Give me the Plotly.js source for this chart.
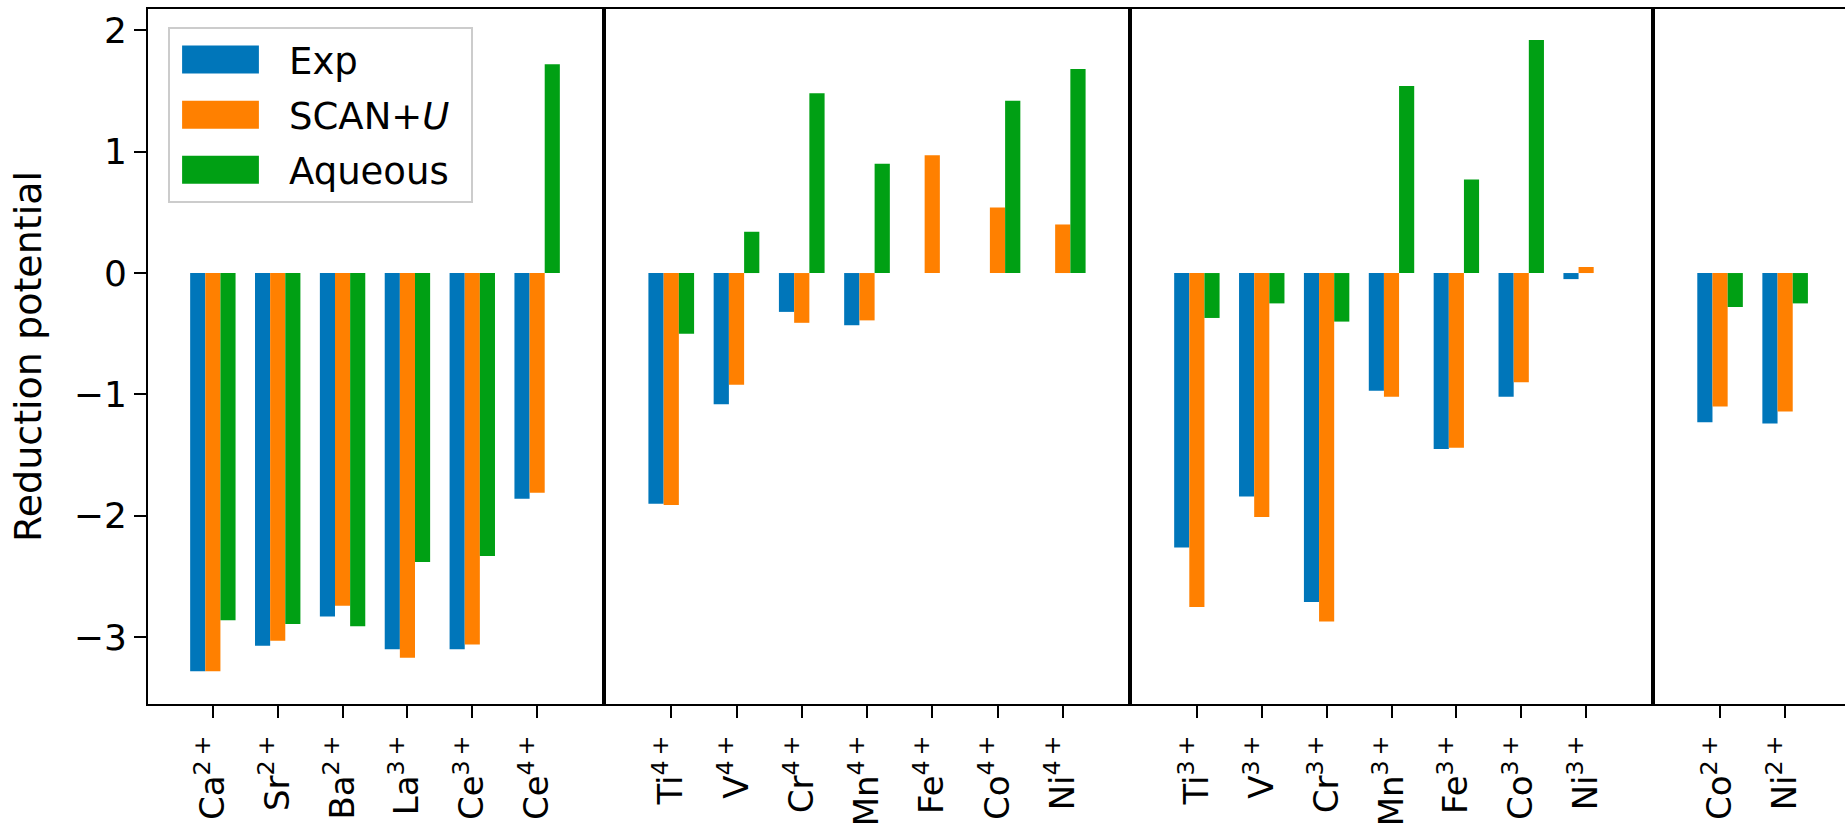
<!DOCTYPE html>
<html><head><meta charset="utf-8">
<script src="https://cdn.plot.ly/plotly-3.0.1.min.js"></script>
<style>html,body{margin:0;padding:0;background:#fff;}</style>
</head><body><div id="chart" style="width:1845px;height:825px;"></div>
<script>
// ---- data ----
const seriesNames = ['Exp', 'SCAN+<i>U</i>', 'Aqueous'];
const seriesColors = ['#0076ba', '#ff8000', '#00a014'];

const ions1 = ['Ca<sup>2\u2009+</sup>', 'Sr<sup>2\u2009+</sup>', 'Ba<sup>2\u2009+</sup>', 'La<sup>3\u2009+</sup>', 'Ce<sup>3\u2009+</sup>', 'Ce<sup>4\u2009+</sup>'];
const exp1  = [-3.28, -3.07, -2.83, -3.10, -3.10, -1.86];
const scan1 = [-3.28, -3.03, -2.74, -3.17, -3.06, -1.81];
const aq1   = [-2.86, -2.89, -2.91, -2.38, -2.33, 1.72];

const ions2 = ['Ti<sup>4\u2009+</sup>', 'V<sup>4\u2009+</sup>', 'Cr<sup>4\u2009+</sup>', 'Mn<sup>4\u2009+</sup>', 'Fe<sup>4\u2009+</sup>', 'Co<sup>4\u2009+</sup>', 'Ni<sup>4\u2009+</sup>'];
const exp2  = [-1.90, -1.08, -0.32, -0.43, null, null, null];
const scan2 = [-1.91, -0.92, -0.41, -0.39, 0.97, 0.54, 0.40];
const aq2   = [-0.50, 0.34, 1.48, 0.90, null, 1.42, 1.68];

const ions3 = ['Ti<sup>3\u2009+</sup>', 'V<sup>3\u2009+</sup>', 'Cr<sup>3\u2009+</sup>', 'Mn<sup>3\u2009+</sup>', 'Fe<sup>3\u2009+</sup>', 'Co<sup>3\u2009+</sup>', 'Ni<sup>3\u2009+</sup>'];
const exp3  = [-2.26, -1.84, -2.71, -0.97, -1.45, -1.02, -0.05];
const scan3 = [-2.75, -2.01, -2.87, -1.02, -1.44, -0.90, 0.05];
const aq3   = [-0.37, -0.25, -0.40, 1.54, 0.77, 1.92, null];

const ions4 = ['Co<sup>2\u2009+</sup>', 'Ni<sup>2\u2009+</sup>'];
const exp4  = [-1.23, -1.24];
const scan4 = [-1.10, -1.14];
const aq4   = [-0.28, -0.25];

const panels = [
  {ions: ions1, vals: [exp1, scan1, aq1]},
  {ions: ions2, vals: [exp2, scan2, aq2]},
  {ions: ions3, vals: [exp3, scan3, aq3]},
  {ions: ions4, vals: [exp4, scan4, aq4]}
];

// ---- layout helpers ----
const W = 1845, H = 825, L = 148, R = 0, T = 9, B = 121;
const PW = W - L - R, PH = H - T - B;
const px = v => (v - L) / PW;
const domains = [[px(148), px(602)], [px(606), px(1128)], [px(1132), px(1651)], [px(1655), 1]];
const ranges = [[-1, 6], [-1, 7], [-1, 7], [-1, 1.92]];

const data = [];
panels.forEach((p, i) => {
  const ax = i === 0 ? '' : String(i + 1);
  p.vals.forEach((v, s) => {
    data.push({
      type: 'bar', x: p.ions, y: v,
      name: seriesNames[s],
      legendgroup: 's' + s,
      showlegend: i === 0,
      marker: {color: seriesColors[s], line: {width: 0}},
      xaxis: 'x' + ax, yaxis: 'y' + ax
    });
  });
});

const fam = 'DejaVu Sans, sans-serif';
const XTICK = 34, YTICK = 36;
const layout = {
  width: W, height: H,
  margin: {l: L, r: R, t: T, b: B, pad: 0},
  paper_bgcolor: '#fff', plot_bgcolor: '#fff',
  barmode: 'group', bargap: 0.3, bargroupgap: 0,
  font: {family: fam, size: XTICK, color: '#000'},
  showlegend: true,
  legend: {
    x: px(168), y: 1 - (27 - T) / PH, xanchor: 'left', yanchor: 'top',
    bgcolor: 'rgba(255,255,255,0.85)', bordercolor: '#cccccc', borderwidth: 2,
    font: {family: fam, size: 37, color: '#000'},
    itemwidth: 109, tracegroupgap: 4
  }
};
for (let i = 0; i < 4; i++) {
  const k = i === 0 ? '' : String(i + 1);
  layout['xaxis' + k] = {
    domain: domains[i], range: ranges[i], type: 'category',
    anchor: 'y' + k,
    showline: true, linewidth: 2, linecolor: '#000', mirror: true,
    ticks: 'outside', ticklen: 12, tickwidth: 2, tickcolor: '#000',
    tickangle: -90, showgrid: false, zeroline: false, automargin: false,
    ticklabelstandoff: 4,
    tickfont: {family: fam, size: XTICK, color: '#000'}, fixedrange: true
  };
  layout['yaxis' + k] = {
    domain: [0, 1], range: [-3.55, 2.175],
    anchor: 'x' + k,
    showline: true, linewidth: 2, linecolor: '#000', mirror: true,
    showgrid: false, zeroline: false, fixedrange: true, automargin: false,
    ticks: i === 0 ? 'outside' : '', ticklen: 12, tickwidth: 2, tickcolor: '#000',
    showticklabels: i === 0, dtick: 1, tick0: 0,
    tickfont: {family: fam, size: YTICK, color: '#000'}
  };
}
layout.yaxis.title = {text: 'Reduction potential', font: {family: fam, size: 38, color: '#000'}, standoff: 20};

Plotly.newPlot('chart', data, layout, {displayModeBar: false, staticPlot: true}).then(gd => {
  gd.querySelectorAll('.legend .legendpoints path').forEach(p => {
    const t = p.getAttribute('transform') || '';
    p.setAttribute('transform', t + ' translate(-9,0) scale(6.4,2.33)');
  });
  const bg = gd.querySelector('.legend rect.bg');
  if (bg) bg.setAttribute('width', (parseFloat(bg.getAttribute('width')) + 16).toString());
});
</script></body></html>
